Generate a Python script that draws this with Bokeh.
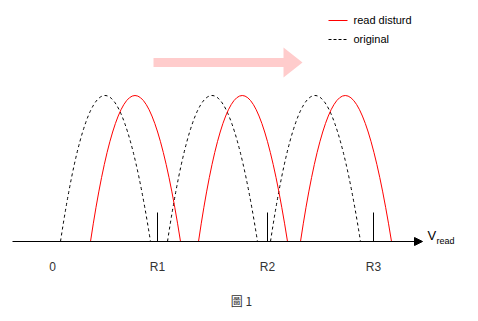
from bokeh.plotting import figure
from bokeh.models import Range1d, Arrow, NormalHead
from bokeh.core.properties import value
from bokeh.embed import file_html
from bokeh.resources import INLINE

# ---- data (x in read-voltage units, y = distribution height) ----
orig_left = [60, 167, 270]
orig_right = [150, 257, 360]
orig_peak_x = [104, 211, 314]
dist_left = [90, 198, 300]
dist_right = [180, 287, 391]
dist_peak_x = [134, 241, 344]
peak_height = [146, 146, 146]

read_levels = [157, 267, 373]
read_tick_height = [29, 29, 29]

level_labels = ["0", "R1", "R2", "R3"]
level_label_x = [52, 157, 267, 373]

legend_labels = ["read disturd", "original"]

FONT = "Liberation Sans, Arial, Helvetica, sans-serif"

p = figure(width=478, height=321, output_backend="svg", toolbar_location=None,
           x_range=Range1d(0, 478), y_range=Range1d(-80, 241),
           x_axis_type=None, y_axis_type=None, min_border=0)
p.outline_line_color = None
p.grid.visible = False
p.background_fill_color = "white"
p.border_fill_color = "white"

# distributions as parabolic arches (quadratic bezier, control at 2*peak)
ctrl_h = [2 * h for h in peak_height]
p.quadratic(x0=orig_left, y0=[0, 0, 0], x1=orig_right, y1=[0, 0, 0],
            cx=orig_peak_x, cy=ctrl_h, line_color="black", line_width=1,
            line_dash="3 3")
p.quadratic(x0=dist_left, y0=[0, 0, 0], x1=dist_right, y1=[0, 0, 0],
            cx=dist_peak_x, cy=ctrl_h, line_color="#ff0000", line_width=1)

# read level ticks
p.segment(x0=read_levels, y0=[0, 0, 0], x1=read_levels, y1=read_tick_height,
          line_color="black", line_width=1)

# horizontal axis with arrow
p.add_layout(Arrow(x_start=12, y_start=0, x_end=422, y_end=0,
                   line_color="black", line_width=1,
                   end=NormalHead(size=8, fill_color="black", line_color="black",
                                  line_width=1)))

# level labels
p.text(x=level_label_x, y=[-25] * 4, text=level_labels,
       text_font=value(FONT), text_font_size="12px", text_color="#333333",
       text_align="center", text_baseline="middle")

# V_read label
p.text(x=[427], y=[6], text=["V"], text_font=value(FONT), text_font_size="13px",
       text_color="black", text_align="left", text_baseline="middle")
p.text(x=[436], y=[1], text=["read"], text_font=value(FONT), text_font_size="9px",
       text_color="black", text_align="left", text_baseline="middle")

# legend
p.segment(x0=[328], y0=[221], x1=[347], y1=[221], line_color="#ff0000", line_width=1)
p.segment(x0=[328], y0=[202], x1=[347], y1=[202], line_color="black", line_width=1,
          line_dash="3 2")
p.text(x=[353, 353], y=[222, 203], text=legend_labels, text_font=value(FONT),
       text_font_size="11px", text_color="black", text_align="left",
       text_baseline="middle")

# shift arrow (pink)
shaft_x0, shaft_x1, shaft_yc, shaft_w = 153, 283, 179, 9
head_len, head_w = 19, 30
p.patch(x=[shaft_x0, shaft_x1, shaft_x1, shaft_x1 + head_len, shaft_x1, shaft_x1, shaft_x0],
        y=[shaft_yc + shaft_w / 2, shaft_yc + shaft_w / 2, shaft_yc + head_w / 2, shaft_yc,
           shaft_yc - head_w / 2, shaft_yc - shaft_w / 2, shaft_yc - shaft_w / 2],
        fill_color="#ffcccc", line_color=None)

# caption
p.text(x=[241], y=[-59], text=["圖 1"],
       text_font=value("Noto Sans CJK TC"),
       text_font_size="12px", text_color="#333333", text_align="center",
       text_baseline="middle")

open("out.html", "w").write(file_html(p, INLINE))
